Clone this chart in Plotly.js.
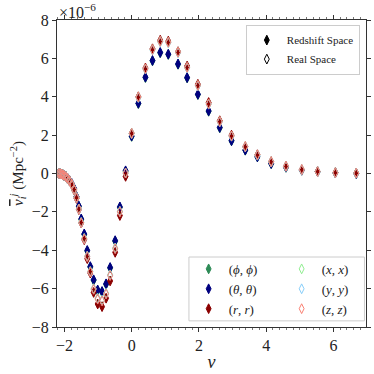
<!DOCTYPE html>
<html>
<head>
<meta charset="utf-8">
<script src="https://cdn.plot.ly/plotly-3.0.1.min.js"></script>
<style>html,body{margin:0;padding:0;background:#fff;}#chart{width:374px;height:374px;}</style>
</head>
<body>
<div id="chart"></div>
<script>
// Threshold values (nu)
const nu = [-2.17, -2.13, -2.09, -2.05, -2.01, -1.96, -1.91, -1.85, -1.78, -1.71, -1.64, -1.57, -1.50, -1.41, -1.32, -1.23, -1.13, -1.01, -0.88, -0.76, -0.64, -0.49, -0.35, -0.18, 0.00, 0.20, 0.41, 0.62, 0.85, 1.09, 1.38, 1.65, 1.97, 2.29, 2.62, 2.97, 3.38, 3.74, 4.15, 4.59, 5.06, 5.53, 6.06, 6.68];

// Redshift space components (units of 1e-6 Mpc^-2)
const phiphi = [0.0, -0.01, -0.03, -0.06, -0.10, -0.15, -0.24, -0.36, -0.54, -0.80, -1.22, -1.72, -2.40, -3.18, -4.04, -4.88, -5.57, -6.10, -6.18, -5.78, -4.93, -3.53, -1.77, 0.12, 1.93, 3.64, 5.00, 5.87, 6.29, 6.20, 5.69, 4.98, 4.11, 3.24, 2.38, 1.70, 1.21, 0.86, 0.51, 0.32, 0.17, 0.09, 0.03, 0.00];
const thetatheta = [0.0, -0.01, -0.03, -0.06, -0.10, -0.15, -0.23, -0.35, -0.52, -0.78, -1.20, -1.70, -2.37, -3.15, -4.01, -4.85, -5.54, -6.07, -6.15, -5.75, -4.90, -3.50, -1.74, 0.14, 1.95, 3.66, 5.02, 5.89, 6.31, 6.22, 5.71, 5.00, 4.13, 3.26, 2.40, 1.71, 1.22, 0.87, 0.52, 0.33, 0.17, 0.09, 0.03, 0.00];
const rr = [0.0, -0.01, -0.03, -0.06, -0.10, -0.16, -0.25, -0.38, -0.58, -0.87, -1.30, -1.88, -2.58, -3.45, -4.44, -5.19, -6.20, -6.80, -6.94, -6.50, -5.60, -4.11, -2.19, -0.15, 2.10, 4.00, 5.50, 6.50, 6.95, 6.90, 6.35, 5.60, 4.65, 3.70, 2.75, 2.00, 1.40, 0.98, 0.62, 0.38, 0.20, 0.11, 0.05, 0.02];

// Real space components
const xx = [0.0, -0.01, -0.03, -0.06, -0.10, -0.16, -0.25, -0.37, -0.56, -0.84, -1.25, -1.85, -2.55, -3.38, -4.30, -5.10, -6.00, -6.50, -6.60, -6.24, -5.28, -3.88, -1.97, 0.03, 2.09, 3.97, 5.45, 6.45, 6.88, 6.83, 6.31, 5.52, 4.58, 3.62, 2.70, 1.95, 1.39, 0.96, 0.61, 0.37, 0.19, 0.10, 0.04, 0.02];
const yy = [0.0, -0.01, -0.03, -0.06, -0.10, -0.16, -0.25, -0.37, -0.56, -0.84, -1.26, -1.86, -2.56, -3.40, -4.32, -5.12, -6.02, -6.52, -6.62, -6.26, -5.30, -3.90, -1.98, 0.02, 2.08, 3.96, 5.44, 6.44, 6.87, 6.82, 6.30, 5.51, 4.57, 3.61, 2.69, 1.94, 1.38, 0.95, 0.60, 0.37, 0.19, 0.10, 0.04, 0.02];
const zz = [0.0, -0.01, -0.03, -0.06, -0.10, -0.16, -0.25, -0.37, -0.56, -0.84, -1.26, -1.86, -2.57, -3.41, -4.33, -5.13, -6.04, -6.55, -6.64, -6.28, -5.32, -3.92, -2.00, 0.02, 2.09, 3.98, 5.46, 6.46, 6.89, 6.84, 6.32, 5.53, 4.59, 3.63, 2.71, 1.96, 1.40, 0.97, 0.61, 0.38, 0.20, 0.10, 0.04, 0.02];

const yTickVals = [-8, -6, -4, -2, 0, 2, 4, 6, 8];
const xTickVals = [-2, 0, 2, 4, 6];

const serif = 'Liberation Serif';

const series = [
  {name: '(<i>ϕ</i>, <i>ϕ</i>)', y: phiphi, color: '#2E8B57', open: false, lg: 'legend2'},
  {name: '(<i>θ</i>, <i>θ</i>)', y: thetatheta, color: '#000080', open: false, lg: 'legend2'},
  {name: '(<i>r</i>, <i>r</i>)', y: rr, color: '#8B0000', open: false, lg: 'legend2'},
  {name: '(<i>x</i>, <i>x</i>)', y: xx, color: '#90EE90', open: true, lg: 'legend3'},
  {name: '(<i>y</i>, <i>y</i>)', y: yy, color: '#87CEFA', open: true, lg: 'legend3'},
  {name: '(<i>z</i>, <i>z</i>)', y: zz, color: '#FA8072', open: true, lg: 'legend3'}
];

const traces = series.map(s => ({
  type: 'scatter', mode: 'markers', x: nu, y: s.y.map(v => v * 1e-6),
  name: s.name, legend: s.lg,
  marker: {
    symbol: s.open ? 'diamond-tall-open' : 'diamond-tall',
    size: 7, color: s.color,
    line: {color: s.color, width: 1}
  },
  hoverinfo: 'skip'
}));

traces.push({type: 'scatter', mode: 'markers', x: [null], y: [null], name: 'Redshift Space', legend: 'legend',
  marker: {symbol: 'diamond-tall', size: 7, color: '#000', line: {color: '#000', width: 1}}});
traces.push({type: 'scatter', mode: 'markers', x: [null], y: [null], name: 'Real Space', legend: 'legend',
  marker: {symbol: 'diamond-tall-open', size: 7, color: '#000', line: {color: '#000', width: 1}}});

const legendCol = {
  yanchor: 'top', xanchor: 'left', y: 0.238,
  bgcolor: 'rgba(0,0,0,0)', borderwidth: 0,
  font: {size: 13, family: serif, color: '#222'},
  itemwidth: 30, tracegroupgap: 0, traceorder: 'normal'
};

const layout = {
  width: 374, height: 374,
  margin: {l: 57, r: 8, t: 20, b: 47},
  paper_bgcolor: '#fff', plot_bgcolor: '#fff',
  font: {family: serif, size: 14, color: '#222'},
  showlegend: true,
  xaxis: {
    range: [-2.22, 6.97], tickvals: xTickVals, ticktext: xTickVals.map(v => v < 0 ? '−' + Math.abs(v) : String(v)),
    ticks: 'outside', ticklen: 4, tickwidth: 1, tickcolor: '#333',
    minor: {dtick: 0.2, tick0: 0, ticks: 'outside', ticklen: 2, tickcolor: '#555', tickwidth: 0.8},
    showline: true, linecolor: '#333', linewidth: 1, mirror: 'allticks',
    showgrid: false, zeroline: false,
    title: {text: '<i>ν</i>', font: {size: 18, family: serif}, standoff: 2},
    tickfont: {size: 16, family: serif}
  },
  yaxis: {
    range: [-8e-6, 8e-6], tickvals: yTickVals.map(v => v * 1e-6), ticktext: yTickVals.map(v => v < 0 ? '−' + Math.abs(v) : String(v)),
    ticks: 'outside', ticklen: 4, tickwidth: 1, tickcolor: '#333',
    showline: true, linecolor: '#333', linewidth: 1, mirror: 'allticks',
    showgrid: false, zeroline: false,
    title: {text: '<span style="text-decoration:overline"><i>v</i></span><sub><i>i</i></sub><sup><i>j</i></sup> (Mpc<sup>−2</sup>)', font: {size: 15, family: serif}, standoff: 4},
    tickfont: {size: 16, family: serif}
  },
  legend: {
    x: 0.98, y: 0.985, xanchor: 'right', yanchor: 'top',
    bgcolor: 'rgba(255,255,255,0.85)', bordercolor: '#ccc', borderwidth: 1,
    font: {size: 11, family: serif, color: '#222'},
    itemwidth: 30, tracegroupgap: 0
  },
  legend2: Object.assign({}, legendCol, {x: 0.426}),
  legend3: Object.assign({}, legendCol, {x: 0.727}),
  shapes: [{
    type: 'rect', xref: 'paper', yref: 'paper', x0: 0.427, x1: 0.995, y0: 0.02, y1: 0.228,
    line: {color: '#ccc', width: 1}, fillcolor: 'rgba(255,255,255,0.85)', layer: 'above'
  }],
  annotations: [{
    xref: 'paper', yref: 'paper', x: 0.0, y: 1.0, xanchor: 'left', yanchor: 'bottom', yshift: -3,
    text: '×10<sup>−6</sup>', showarrow: false, font: {size: 16, family: serif, color: '#222'}
  }]
};

Plotly.newPlot('chart', traces, layout, {displayModeBar: false, staticPlot: true});
</script>
</body>
</html>
